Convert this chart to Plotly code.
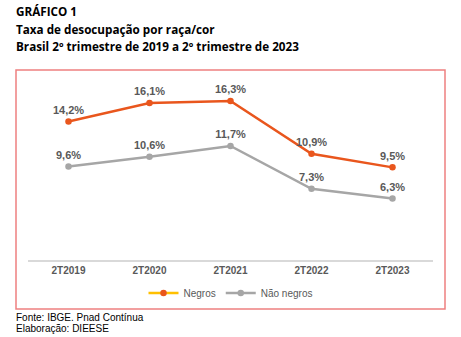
import plotly.graph_objects as go

# Data: unemployment rate by race/colour (%)
periods = ["2T2019", "2T2020", "2T2021", "2T2022", "2T2023"]
negros = [14.2, 16.1, 16.3, 10.9, 9.5]
nao_negros = [9.6, 10.6, 11.7, 7.3, 6.3]

ORANGE = "#E9561D"
LEGEND_YELLOW = "#FFC000"
GRAY = "#A6A6A6"
LABEL = "#595959"
FONT = "Liberation Sans, Arial, sans-serif"


def pct(v):
    return f"{v:.1f}".replace(".", ",") + "%"


fig = go.Figure()

# Plotted series (legend entries drawn by separate legend-only traces)
fig.add_trace(go.Scatter(
    x=periods, y=negros, mode="lines+markers+text",
    line=dict(color=ORANGE, width=2.5), marker=dict(color=ORANGE, size=6.5),
    text=[pct(v) for v in negros], textposition="top center",
    textfont=dict(family=FONT, size=11, color=LABEL, weight="bold"),
    showlegend=False, hoverinfo="skip", cliponaxis=False,
))
fig.add_trace(go.Scatter(
    x=periods, y=nao_negros, mode="lines+markers+text",
    line=dict(color=GRAY, width=2.5), marker=dict(color=GRAY, size=6.5),
    text=[pct(v) for v in nao_negros], textposition="top center",
    textfont=dict(family=FONT, size=11, color=LABEL, weight="bold"),
    showlegend=False, hoverinfo="skip", cliponaxis=False,
))

# Legend entries
fig.add_trace(go.Scatter(
    x=[None], y=[None], mode="lines+markers", name="Negros",
    line=dict(color=LEGEND_YELLOW, width=2.5), marker=dict(color=ORANGE, size=6.5),
))
fig.add_trace(go.Scatter(
    x=[None], y=[None], mode="lines+markers", name="Não negros",
    line=dict(color=GRAY, width=2.5), marker=dict(color=GRAY, size=6.5),
))

W, H = 461, 337
L, R, T, B = 28, 28, 80, 77
pw, ph = W - L - R, H - T - B


def px(x):
    return (x - L) / pw


def py(y):
    return (H - B - y) / ph


fig.update_layout(
    width=W, height=H,
    margin=dict(l=L, r=R, t=T, b=B),
    paper_bgcolor="white", plot_bgcolor="white",
    font=dict(family=FONT, color=LABEL),
    xaxis=dict(
        type="category", range=[-0.5, 4.5], showgrid=False, zeroline=False,
        showline=True, linecolor="#D9D9D9", linewidth=2, ticks="",
        tickfont=dict(family=FONT, size=10, color=LABEL, weight="bold"),
    ),
    yaxis=dict(range=[0, 18.46], visible=False, showgrid=False, zeroline=False),
    legend=dict(
        orientation="h", x=0.5, xanchor="center", y=py(293), yanchor="middle",
        font=dict(family=FONT, size=10, color=LABEL), bgcolor="rgba(0,0,0,0)",
        itemwidth=30, tracegroupgap=0,
    ),
    shapes=[dict(
        type="rect", xref="paper", yref="paper",
        x0=px(16), x1=px(445), y0=py(309), y1=py(70),
        line=dict(color="#EE8080", width=1.5), fillcolor="rgba(0,0,0,0)",
        layer="below",
    )],
)

title_lines = [
    ("GRÁFICO 1", 11),
    ("Taxa de desocupação por raça/cor", 29),
    ("Brasil 2º trimestre de 2019 a 2º trimestre de 2023", 46),
]
for txt, yc in title_lines:
    fig.add_annotation(
        text=txt, xref="paper", yref="paper", x=px(14), y=py(yc),
        xanchor="left", yanchor="middle", showarrow=False,
        font=dict(family="Open Sans, sans-serif", size=11.7, color="#000000", weight="bold"),
    )

for txt, yc in [("Fonte: IBGE. Pnad Contínua", 317), ("Elaboração: DIEESE", 328)]:
    fig.add_annotation(
        text=txt, xref="paper", yref="paper", x=px(14), y=py(yc),
        xanchor="left", yanchor="middle", showarrow=False,
        font=dict(family=FONT, size=10, color="#000000"),
    )

fig.write_html("out.html")
